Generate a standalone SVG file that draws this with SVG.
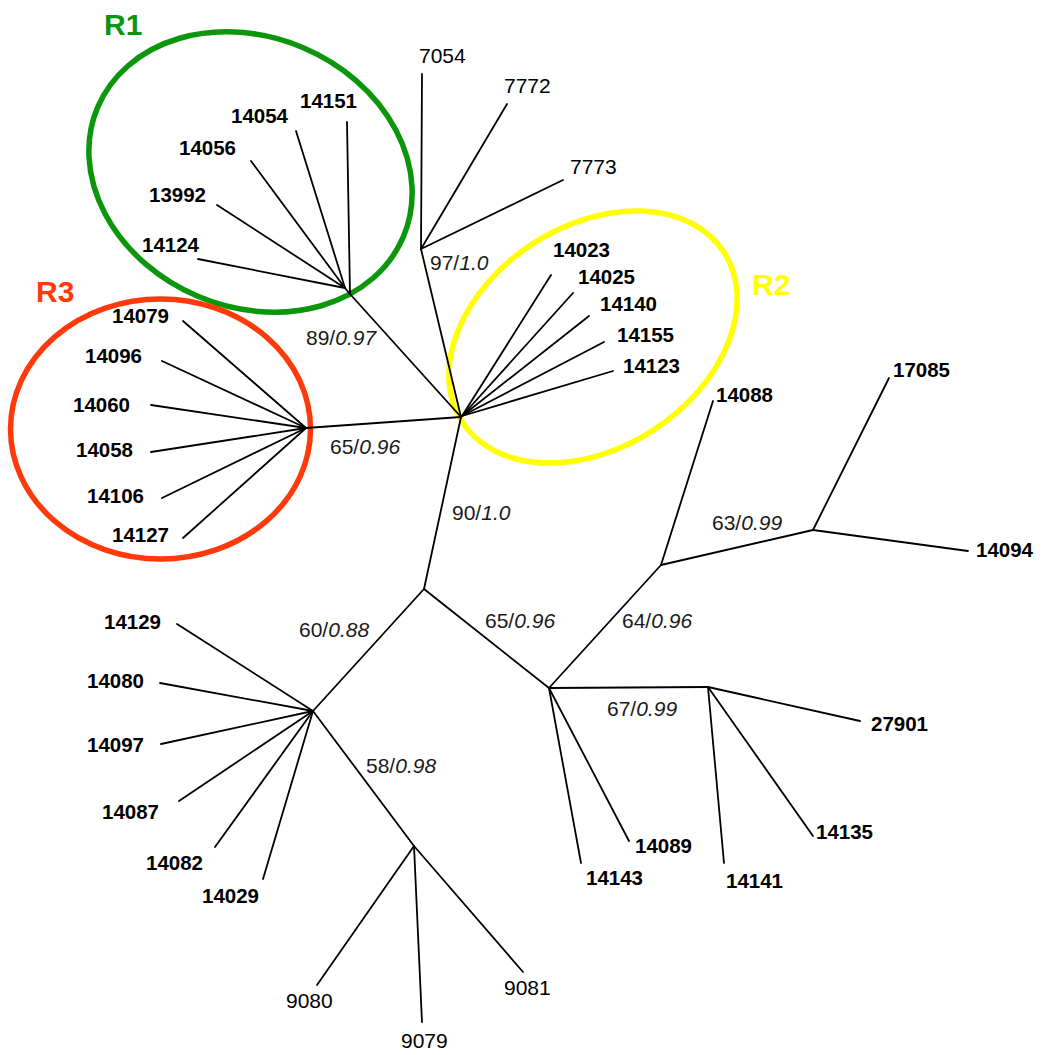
<svg xmlns="http://www.w3.org/2000/svg" width="1042" height="1055" viewBox="0 0 1042 1055">
  <style>
    .br { stroke: #000; stroke-width: 1.8; fill: none; stroke-linecap: round; }
    .lb { font-family: "Liberation Sans", Arial, sans-serif; font-size: 20.5px; font-weight: bold; fill: #000; }
    .ln { font-family: "Liberation Sans", Arial, sans-serif; font-size: 21px; fill: #000; }
    .sp { font-family: "Liberation Sans", Arial, sans-serif; font-size: 21px; fill: #1a1a1a; }
    .sp tspan { font-style: italic; }
    .grp { font-family: "Liberation Sans", Arial, sans-serif; font-size: 30px; font-weight: bold; }
    .ring { fill: none; stroke-width: 5.5; }
  </style>

  <!-- clade outlines -->
  <g id="clade-R1">
    <ellipse class="ring" cx="250.5" cy="172" rx="166" ry="135" transform="rotate(23 250.5 172)" stroke="#0b960b"/>
    <text class="grp" x="104" y="35" fill="#0b960b">R1</text>
  </g>
  <g id="clade-R3">
    <ellipse class="ring" cx="160.5" cy="429" rx="150" ry="130" stroke="#ff3a0a"/>
    <text class="grp" x="36" y="302" fill="#ff3a0a">R3</text>
  </g>
  <g id="clade-R2">
    <ellipse class="ring" cx="593" cy="337" rx="156" ry="111" transform="rotate(-33 593 337)" stroke="#ffff00"/>
    <text class="grp" x="752" y="295" fill="#ffff00">R2</text>
  </g>

  <!-- tree branches -->
  <g id="connectors">
    <!-- internal branches -->
    <line class="br" x1="461" y1="417" x2="350" y2="294"/>
    <line class="br" x1="350" y1="294" x2="345" y2="288"/>
    <line class="br" x1="461" y1="417" x2="421" y2="249"/>
    <line class="br" x1="461" y1="417" x2="306" y2="428"/>
    <line class="br" x1="461" y1="417" x2="424" y2="589"/>
    <line class="br" x1="424" y1="589" x2="313" y2="711"/>
    <line class="br" x1="424" y1="589" x2="549" y2="688"/>
    <line class="br" x1="313" y1="711" x2="414" y2="846"/>
    <line class="br" x1="549" y1="688" x2="661" y2="565"/>
    <line class="br" x1="549" y1="688" x2="708" y2="687"/>
    <line class="br" x1="661" y1="565" x2="813" y2="530"/>

    <!-- R1 leaves -->
    <line class="br" x1="350" y1="294" x2="347" y2="122"/>
    <line class="br" x1="345" y1="288" x2="296" y2="131"/>
    <line class="br" x1="345" y1="288" x2="251" y2="161"/>
    <line class="br" x1="345" y1="288" x2="217" y2="205"/>
    <line class="br" x1="345" y1="288" x2="198" y2="259"/>

    <!-- 7054 / 7772 / 7773 -->
    <line class="br" x1="421" y1="249" x2="422" y2="74"/>
    <line class="br" x1="421" y1="249" x2="507" y2="104"/>
    <line class="br" x1="421" y1="249" x2="563" y2="180"/>

    <!-- R2 leaves -->
    <line class="br" x1="462" y1="416" x2="551" y2="275"/>
    <line class="br" x1="462" y1="416" x2="573" y2="293"/>
    <line class="br" x1="462" y1="416" x2="589" y2="316"/>
    <line class="br" x1="462" y1="416" x2="604" y2="342"/>
    <line class="br" x1="462" y1="416" x2="613" y2="371"/>

    <!-- R3 leaves -->
    <line class="br" x1="306" y1="428" x2="183" y2="321"/>
    <line class="br" x1="306" y1="428" x2="162" y2="361"/>
    <line class="br" x1="306" y1="428" x2="151" y2="405"/>
    <line class="br" x1="306" y1="428" x2="151" y2="452"/>
    <line class="br" x1="306" y1="428" x2="162" y2="498"/>
    <line class="br" x1="306" y1="428" x2="183" y2="538"/>

    <!-- lower-left clade -->
    <line class="br" x1="313" y1="711" x2="177" y2="624"/>
    <line class="br" x1="313" y1="711" x2="160" y2="683"/>
    <line class="br" x1="313" y1="711" x2="161" y2="744"/>
    <line class="br" x1="313" y1="711" x2="179" y2="801"/>
    <line class="br" x1="313" y1="711" x2="215" y2="847"/>
    <line class="br" x1="313" y1="711" x2="263" y2="879"/>

    <!-- 9079 / 9080 / 9081 -->
    <line class="br" x1="414" y1="846" x2="317" y2="985"/>
    <line class="br" x1="414" y1="846" x2="422" y2="1022"/>
    <line class="br" x1="414" y1="846" x2="523" y2="972"/>

    <!-- right clades -->
    <line class="br" x1="661" y1="565" x2="713" y2="401"/>
    <line class="br" x1="813" y1="530" x2="889" y2="378"/>
    <line class="br" x1="813" y1="530" x2="968" y2="551"/>
    <line class="br" x1="549" y1="688" x2="581" y2="863"/>
    <line class="br" x1="549" y1="688" x2="629" y2="841"/>
    <line class="br" x1="708" y1="687" x2="724" y2="863"/>
    <line class="br" x1="708" y1="687" x2="813" y2="836"/>
    <line class="br" x1="708" y1="687" x2="860" y2="721"/>
  </g>

  <!-- support values (bootstrap / posterior) -->
  <g id="supports">
    <text class="sp" x="430" y="270">97/<tspan>1.0</tspan></text>
    <text class="sp" x="306" y="345">89/<tspan>0.97</tspan></text>
    <text class="sp" x="330" y="454">65/<tspan>0.96</tspan></text>
    <text class="sp" x="452" y="520">90/<tspan>1.0</tspan></text>
    <text class="sp" x="299" y="637">60/<tspan>0.88</tspan></text>
    <text class="sp" x="485" y="628">65/<tspan>0.96</tspan></text>
    <text class="sp" x="622" y="628">64/<tspan>0.96</tspan></text>
    <text class="sp" x="712" y="530">63/<tspan>0.99</tspan></text>
    <text class="sp" x="607" y="716">67/<tspan>0.99</tspan></text>
    <text class="sp" x="366" y="773">58/<tspan>0.98</tspan></text>
  </g>

  <!-- leaf labels -->
  <g id="leaf-14151"><text class="lb" x="300" y="108">14151</text></g>
  <g id="leaf-14054"><text class="lb" x="231" y="123">14054</text></g>
  <g id="leaf-14056"><text class="lb" x="179" y="155">14056</text></g>
  <g id="leaf-13992"><text class="lb" x="149" y="202">13992</text></g>
  <g id="leaf-14124"><text class="lb" x="142" y="252">14124</text></g>

  <g id="leaf-7054"><text class="ln" x="419" y="63">7054</text></g>
  <g id="leaf-7772"><text class="ln" x="504" y="93">7772</text></g>
  <g id="leaf-7773"><text class="ln" x="570" y="174">7773</text></g>

  <g id="leaf-14023"><text class="lb" x="553" y="257">14023</text></g>
  <g id="leaf-14025"><text class="lb" x="578" y="284">14025</text></g>
  <g id="leaf-14140"><text class="lb" x="600" y="311">14140</text></g>
  <g id="leaf-14155"><text class="lb" x="617" y="342">14155</text></g>
  <g id="leaf-14123"><text class="lb" x="623" y="373">14123</text></g>

  <g id="leaf-14079"><text class="lb" x="112" y="323">14079</text></g>
  <g id="leaf-14096"><text class="lb" x="85" y="363">14096</text></g>
  <g id="leaf-14060"><text class="lb" x="73" y="412">14060</text></g>
  <g id="leaf-14058"><text class="lb" x="76" y="457">14058</text></g>
  <g id="leaf-14106"><text class="lb" x="87" y="503">14106</text></g>
  <g id="leaf-14127"><text class="lb" x="112" y="542">14127</text></g>

  <g id="leaf-14088"><text class="lb" x="716" y="402">14088</text></g>
  <g id="leaf-17085"><text class="lb" x="893" y="377">17085</text></g>
  <g id="leaf-14094"><text class="lb" x="976" y="557">14094</text></g>
  <g id="leaf-27901"><text class="lb" x="871" y="731">27901</text></g>
  <g id="leaf-14135"><text class="lb" x="816" y="839">14135</text></g>
  <g id="leaf-14141"><text class="lb" x="726" y="888">14141</text></g>
  <g id="leaf-14089"><text class="lb" x="635" y="853">14089</text></g>
  <g id="leaf-14143"><text class="lb" x="586" y="885">14143</text></g>

  <g id="leaf-14129"><text class="lb" x="104" y="629">14129</text></g>
  <g id="leaf-14080"><text class="lb" x="87" y="688">14080</text></g>
  <g id="leaf-14097"><text class="lb" x="87" y="752">14097</text></g>
  <g id="leaf-14087"><text class="lb" x="102" y="819">14087</text></g>
  <g id="leaf-14082"><text class="lb" x="146" y="870">14082</text></g>
  <g id="leaf-14029"><text class="lb" x="202" y="903">14029</text></g>

  <g id="leaf-9080"><text class="ln" x="286" y="1008">9080</text></g>
  <g id="leaf-9079"><text class="ln" x="401" y="1048">9079</text></g>
  <g id="leaf-9081"><text class="ln" x="504" y="995">9081</text></g>
</svg>
